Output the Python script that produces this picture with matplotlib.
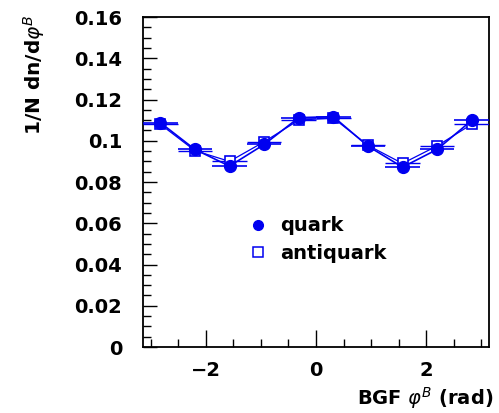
import numpy as np
import matplotlib.pyplot as plt
from matplotlib.lines import Line2D
from matplotlib.ticker import MultipleLocator

plt.rcParams['font.family'] = ['DejaVu Sans']
plt.rcParams['mathtext.fontset'] = 'dejavusans'

# 10 bins over [-pi, pi]
nbins = 10
edges = np.linspace(-np.pi, np.pi, nbins + 1)
centers = 0.5 * (edges[1:] + edges[:-1])
halfw = 0.5 * (edges[1] - edges[0])

quark = [0.1088, 0.0958, 0.0877, 0.0982, 0.1112, 0.1117, 0.0974, 0.0872, 0.0958, 0.1099]
antiquark = [0.1080, 0.0952, 0.0900, 0.0995, 0.1100, 0.1110, 0.0978, 0.0890, 0.0975, 0.1080]

blue = '#0000f0'

fig = plt.figure(figsize=(4.99, 4.13), dpi=100)
ax = fig.add_axes([0.2866, 0.1598, 0.6934, 0.799])

ax.plot(centers, quark, color=blue, lw=1.2, zorder=2)
ax.plot(centers, antiquark, color=blue, lw=0.9, zorder=2)
ax.errorbar(centers, antiquark, xerr=halfw, yerr=0.0008, fmt='s', ms=7, mfc='white',
            mec=blue, mew=1.2, ecolor=blue, elinewidth=1.0, capsize=0, zorder=3)
ax.errorbar(centers, quark, xerr=halfw, yerr=0.0008, fmt='o', ms=8.5, mfc=blue,
            mec=blue, ecolor=blue, elinewidth=1.2, capsize=0, zorder=4)

ax.set_xlim(-np.pi, np.pi)
ax.set_ylim(0, 0.16)
ax.xaxis.set_major_locator(MultipleLocator(2))
ax.xaxis.set_minor_locator(MultipleLocator(0.5))
ax.yaxis.set_major_locator(MultipleLocator(0.02))
ax.yaxis.set_minor_locator(MultipleLocator(0.005))
ax.set_yticks([0, 0.02, 0.04, 0.06, 0.08, 0.1, 0.12, 0.14, 0.16])
ax.set_yticklabels(['0', '0.02', '0.04', '0.06', '0.08', '0.1', '0.12', '0.14', '0.16'])
ax.set_xticks([-2, 0, 2])
ax.set_xticklabels(['\u22122', '0', '2'])

ax.tick_params(which='both', direction='in', width=1, top=False, right=False,
               labelsize=14)
ax.tick_params(axis='y', which='major', length=10, pad=15)
ax.tick_params(axis='y', which='minor', length=6)
ax.tick_params(axis='x', which='major', length=12, pad=10)
ax.tick_params(axis='x', which='minor', length=6)
for lab in ax.get_xticklabels() + ax.get_yticklabels():
    lab.set_fontweight('bold')
for sp in ax.spines.values():
    sp.set_linewidth(1.3)

fig.text(0.988, 0.006, r'BGF $\varphi^{B}$ (rad)', ha='right', va='bottom',
         fontsize=14, fontweight='bold')
fig.text(0.068, 0.965, r'1/N dn/d$\varphi^{B}$', ha='center', va='top',
         rotation=90, fontsize=14.5, fontweight='bold')

handles = [Line2D([], [], ls='none', marker='o', ms=7, mfc=blue, mec=blue),
           Line2D([], [], ls='none', marker='s', ms=6.5, mfc='white', mec=blue, mew=1.1)]
leg = ax.legend(handles, ['quark', 'antiquark'], loc='center left',
                bbox_to_anchor=(0.305, 0.325), frameon=False, handlelength=1.0,
                handletextpad=0.6, borderpad=0, borderaxespad=0, labelspacing=0.45,
                prop={'size': 14, 'weight': 'bold'})

fig.savefig('out.png', dpi=100)
